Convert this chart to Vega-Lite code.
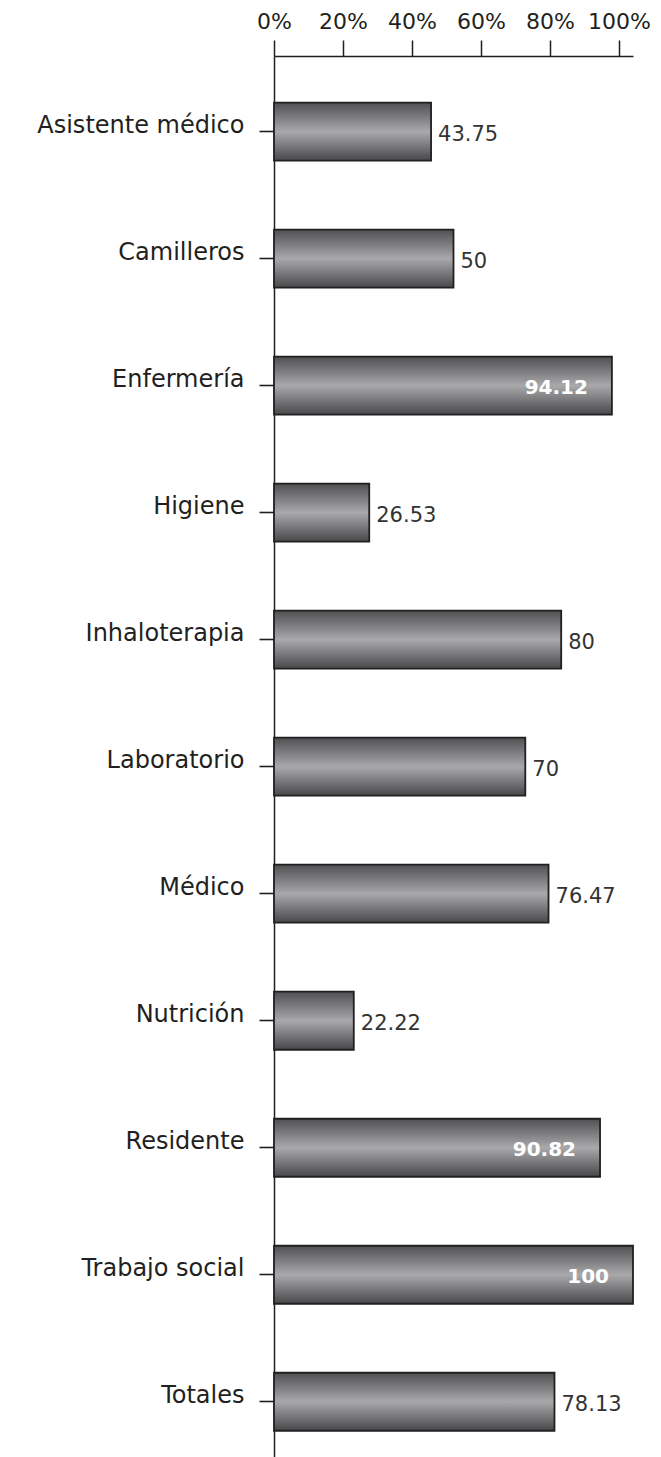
{
  "$schema": "https://vega.github.io/schema/vega-lite/v6.json",
  "autosize": {"type": "none"},
  "padding": {"left": 274, "top": 56, "right": 28, "bottom": 0},
  "width": 359,
  "height": 1401,
  "background": "white",
  "config": {"view": {"stroke": null}, "font": "DejaVu Sans"},
  "data": {"values": [
    {"cat": "Asistente médico", "v": 43.75},
    {"cat": "Camilleros", "v": 50},
    {"cat": "Enfermería", "v": 94.12},
    {"cat": "Higiene", "v": 26.53},
    {"cat": "Inhaloterapia", "v": 80},
    {"cat": "Laboratorio", "v": 70},
    {"cat": "Médico", "v": 76.47},
    {"cat": "Nutrición", "v": 22.22},
    {"cat": "Residente", "v": 90.82},
    {"cat": "Trabajo social", "v": 100},
    {"cat": "Totales", "v": 78.13}
  ]},
  "resolve": {"scale": {"x": "independent"}},
  "layer": [
    {
      "encoding": {
        "y": {
          "field": "cat", "type": "nominal", "sort": null,
          "scale": {"paddingInner": 0.5433, "paddingOuter": 0.287, "align": 0.64},
          "axis": {
            "title": null, "orient": "left",
            "domainColor": "#231f20", "domainWidth": 1.5,
            "tickColor": "#231f20", "tickWidth": 1.6, "tickSize": 15,
            "labelFont": "DejaVu Sans", "labelFontSize": 24, "labelColor": "#231f20",
            "labelPadding": 15, "labelBaseline": "middle", "labelOffset": -6,
            "labelLimit": 300
          }
        },
        "x": {
          "field": "v", "type": "quantitative",
          "scale": {"domain": [0, 100], "nice": false},
          "axis": null
        }
      },
      "layer": [
        {
          "mark": {
            "type": "bar",
            "stroke": "#231f20", "strokeWidth": 1.8,
            "color": {
              "gradient": "linear", "x1": 0, "y1": 0, "x2": 0, "y2": 1,
              "stops": [
                {"offset": 0, "color": "#505052"},
                {"offset": 0.5, "color": "#a9a9ab"},
                {"offset": 1, "color": "#48484a"}
              ]
            }
          }
        },
        {
          "transform": [{"filter": "datum.v <= 90"}],
          "mark": {"type": "text", "align": "left", "baseline": "middle", "dx": 7, "dy": 3, "fontSize": 21, "color": "#333333", "font": "DejaVu Sans"},
          "encoding": {"text": {"field": "v", "type": "nominal"}}
        },
        {
          "transform": [{"filter": "datum.v > 90"}],
          "mark": {"type": "text", "align": "right", "baseline": "middle", "dx": -24, "dy": 2, "fontSize": 20, "fontWeight": "bold", "color": "white", "font": "DejaVu Sans"},
          "encoding": {"text": {"field": "v", "type": "nominal"}}
        }
      ]
    },
    {
      "mark": {"type": "rule", "opacity": 0},
      "encoding": {
        "x": {
          "field": "v", "type": "quantitative",
          "scale": {"domain": [0, 104.06], "nice": false, "zero": true},
          "axis": {
            "title": null, "orient": "top",
            "values": [0, 20, 40, 60, 80, 100],
            "labelExpr": "datum.value + '%'",
            "domainColor": "#231f20", "domainWidth": 1.5,
            "tickColor": "#231f20", "tickWidth": 1.5, "tickSize": 16,
            "labelFont": "DejaVu Sans", "labelFontSize": 22, "labelColor": "#231f20",
            "labelPadding": 12, "labelBaseline": "alphabetic",
            "labelOverlap": false, "labelFlush": false, "grid": false
          }
        }
      }
    }
  ]
}
